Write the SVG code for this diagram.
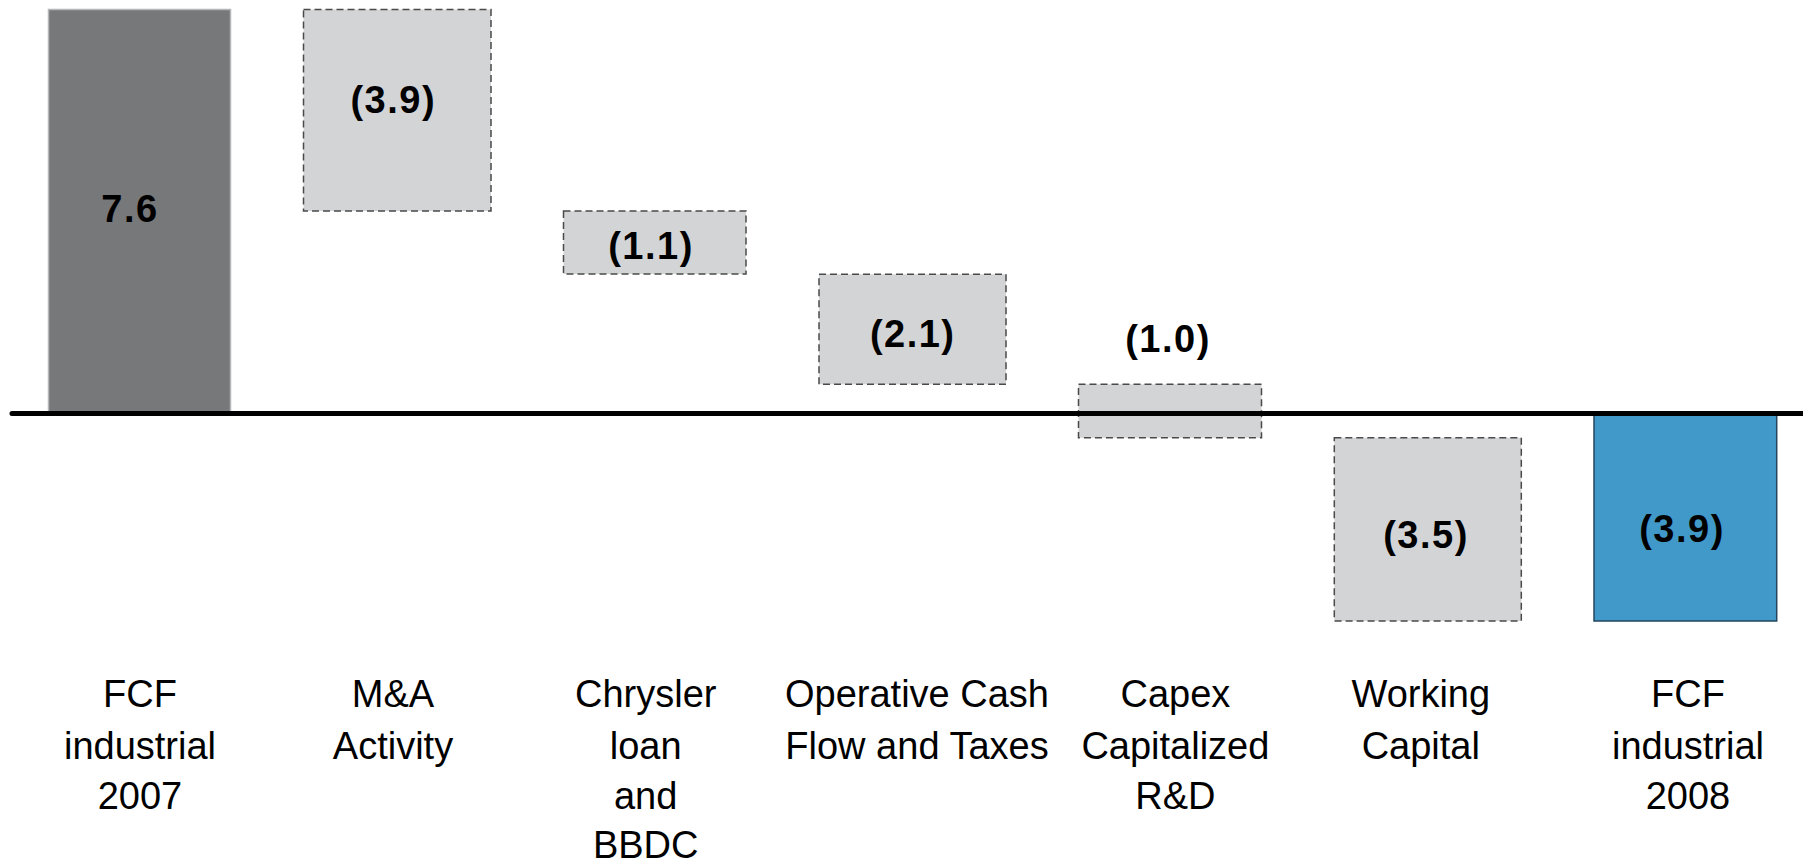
<svg xmlns="http://www.w3.org/2000/svg" width="1803" height="865" viewBox="0 0 1803 865">
  <style>
    .bg { fill: #ffffff; }
    .delta { fill: #d3d4d6; stroke: #4a4a4a; stroke-width: 1.5; stroke-dasharray: 7 4; }
    .start { fill: #77787a; stroke: #b5b6b8; stroke-width: 1.5; }
    .end { fill: #4099c9; stroke: #23465e; stroke-width: 1.5; }
    .val { font-family: "Liberation Sans", Arial, sans-serif; font-weight: bold; font-size: 38px; letter-spacing: 1.5px; fill: #000; text-anchor: middle; }
    .cat { font-family: "Liberation Sans", Arial, sans-serif; font-size: 38px; fill: #000; text-anchor: middle; }
    .axis { stroke: #000; stroke-width: 5; stroke-linecap: round; }
  </style>
  <rect class="bg" x="0" y="0" width="1803" height="865"/>

  <g id="bar-fcf-2007">
    <rect class="start" x="48.5" y="9.5" width="182" height="404"/>
    <text class="val" x="130" y="221.7">7.6</text>
    <text class="cat" x="140" y="706.7">FCF</text>
    <text class="cat" x="140" y="759">industrial</text>
    <text class="cat" x="140" y="809.3">2007</text>
  </g>

  <g id="bar-ma-activity">
    <rect class="delta" x="303.5" y="9.5" width="187.5" height="201.5"/>
    <text class="val" x="393.3" y="113.3">(3.9)</text>
    <text class="cat" x="393" y="706.7">M&amp;A</text>
    <text class="cat" x="393" y="759">Activity</text>
  </g>

  <g id="bar-chrysler">
    <rect class="delta" x="563.5" y="211" width="182.5" height="63"/>
    <text class="val" x="651" y="259">(1.1)</text>
    <text class="cat" x="645.7" y="706.7">Chrysler</text>
    <text class="cat" x="645.7" y="759">loan</text>
    <text class="cat" x="645.7" y="809.3">and</text>
    <text class="cat" x="645.7" y="858.3">BBDC</text>
  </g>

  <g id="bar-operative-cash">
    <rect class="delta" x="819" y="274.3" width="187" height="110"/>
    <text class="val" x="912.7" y="346.7">(2.1)</text>
    <text class="cat" x="917" y="706.7">Operative Cash</text>
    <text class="cat" x="917" y="759">Flow and Taxes</text>
  </g>

  <g id="bar-capex">
    <rect class="delta" x="1078.5" y="384.3" width="183" height="53.4"/>
    <text class="val" x="1168" y="351.5">(1.0)</text>
    <text class="cat" x="1175.4" y="706.7">Capex</text>
    <text class="cat" x="1175.4" y="759">Capitalized</text>
    <text class="cat" x="1175.4" y="809.3">R&amp;D</text>
  </g>

  <g id="bar-working-capital">
    <rect class="delta" x="1334.3" y="437.7" width="187" height="183.3"/>
    <text class="val" x="1426" y="548">(3.5)</text>
    <text class="cat" x="1420.8" y="706.7">Working</text>
    <text class="cat" x="1420.8" y="759">Capital</text>
  </g>

  <g id="bar-fcf-2008">
    <rect class="end" x="1594" y="413.5" width="182.7" height="207.5"/>
    <text class="val" x="1682" y="541.7">(3.9)</text>
    <text class="cat" x="1688" y="706.7">FCF</text>
    <text class="cat" x="1688" y="759">industrial</text>
    <text class="cat" x="1688" y="809.3">2008</text>
  </g>

  <g id="connectors">
    <line class="axis" x1="12" y1="413.5" x2="1810" y2="413.5"/>
  </g>
</svg>
